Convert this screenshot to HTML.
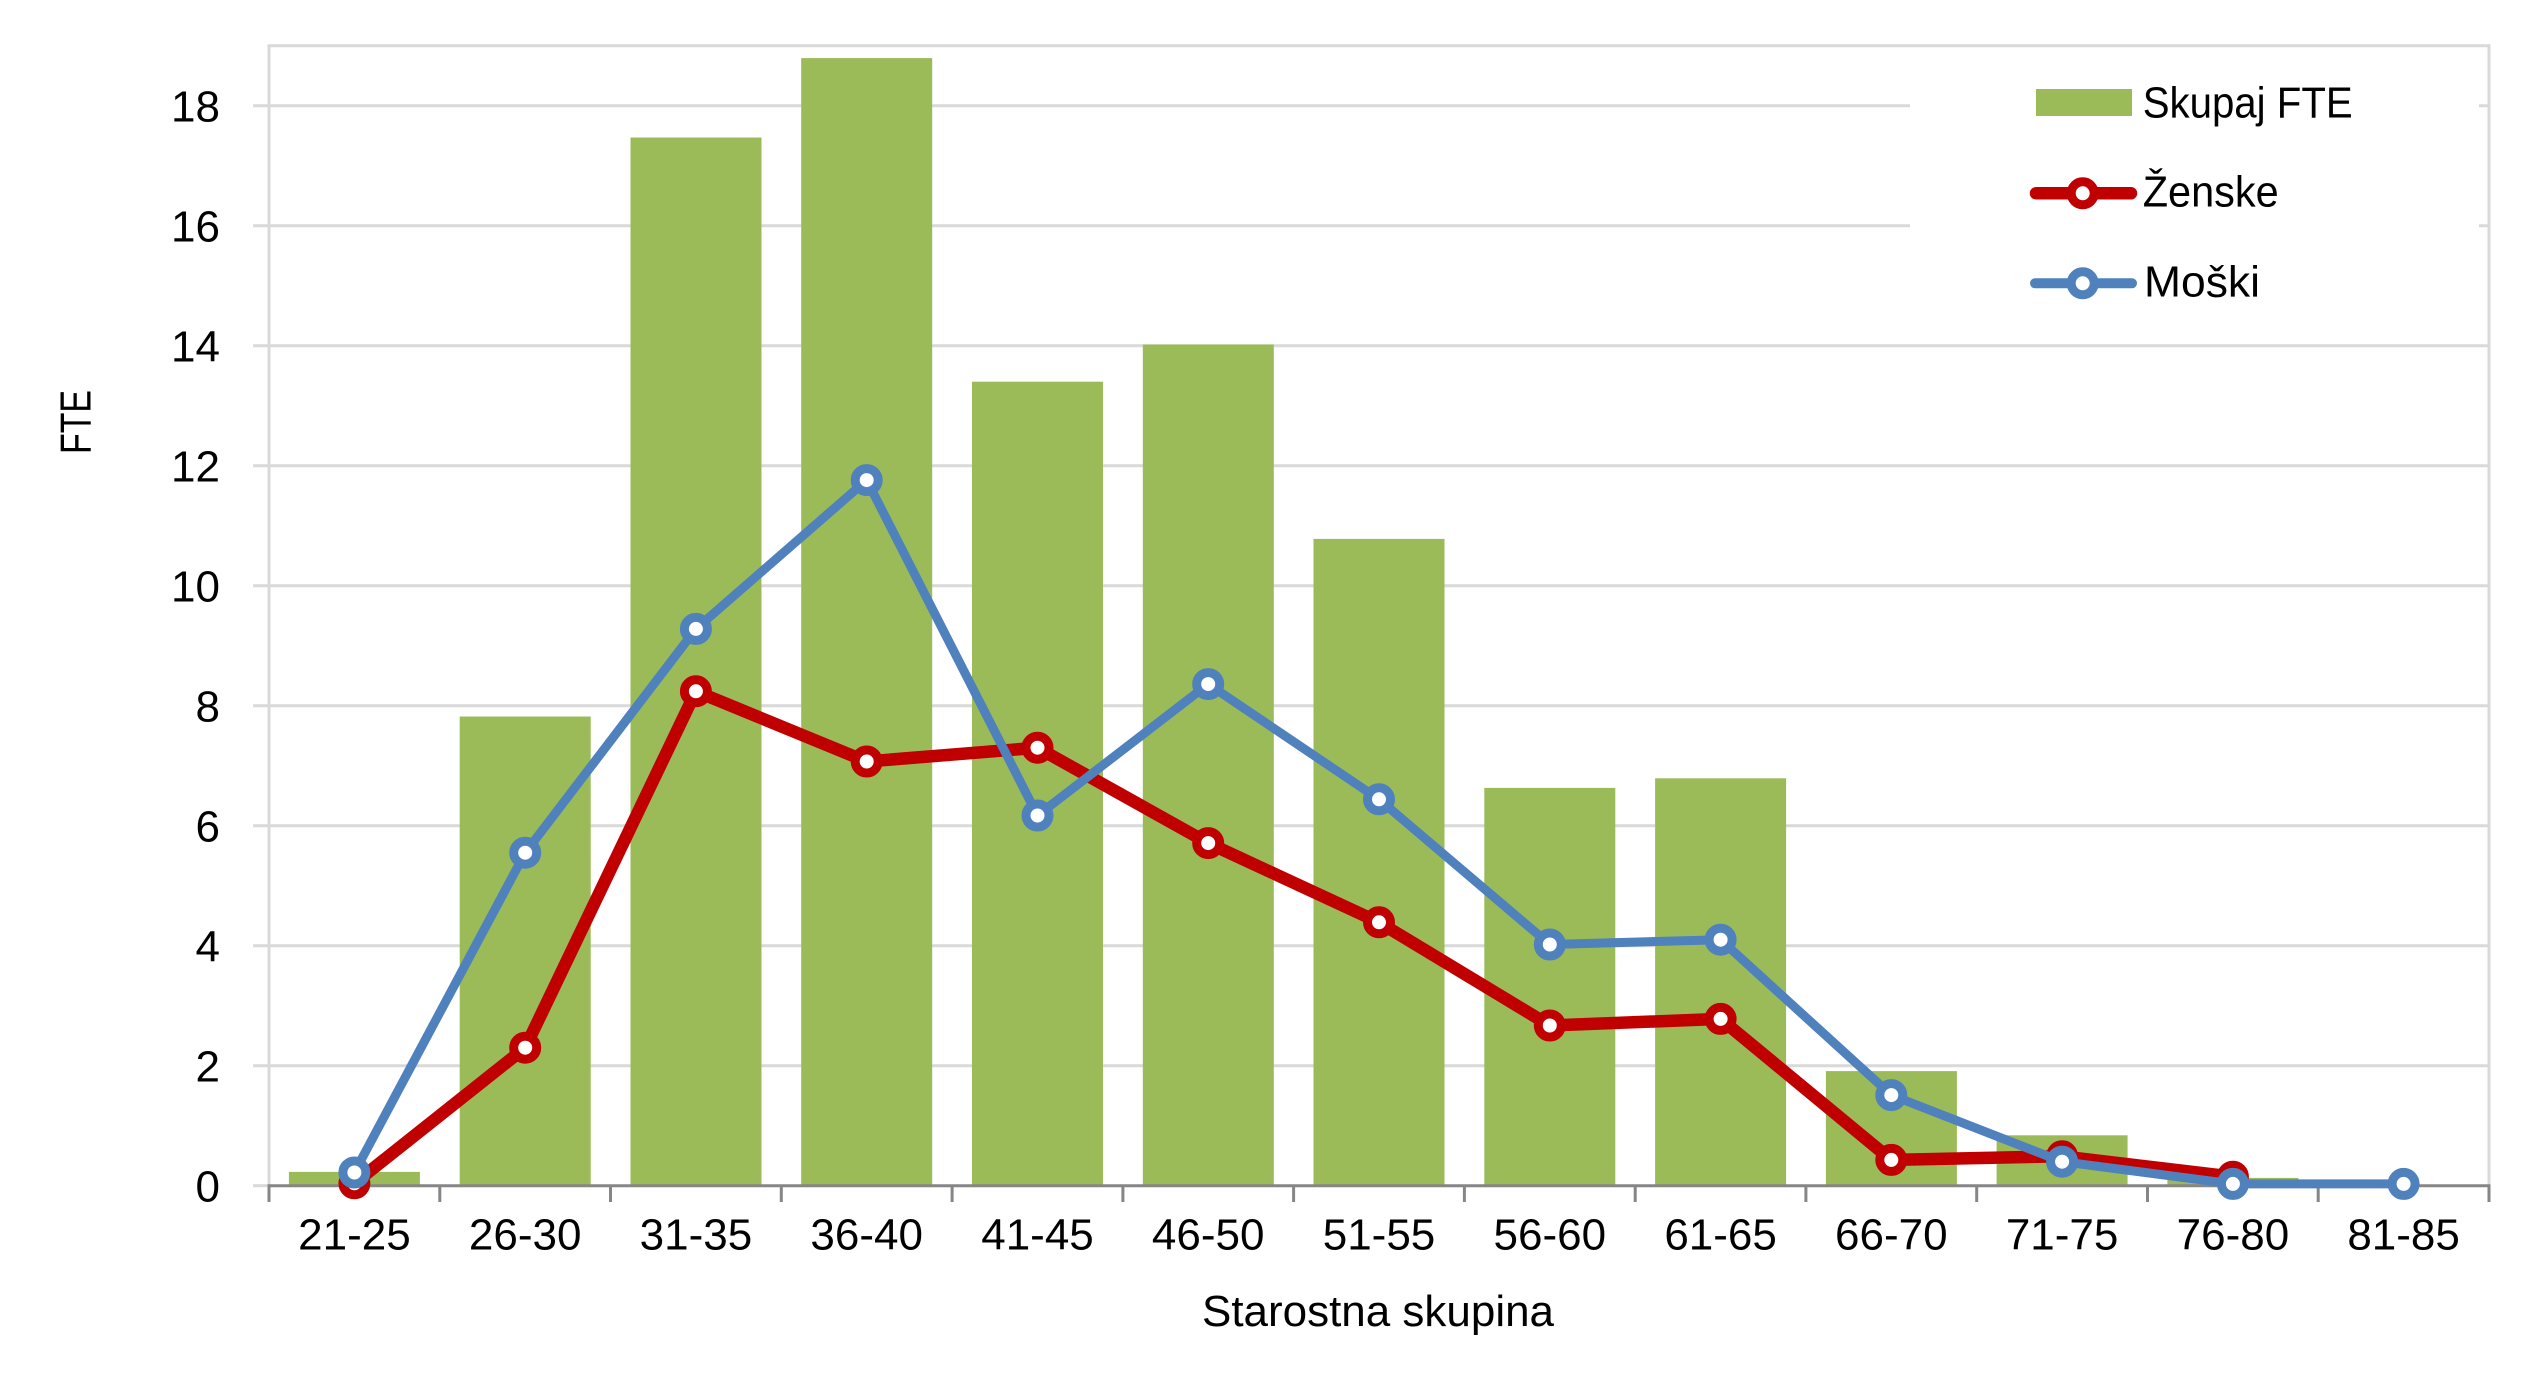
<!DOCTYPE html>
<html>
<head>
<meta charset="utf-8">
<style>
  html,body{margin:0;padding:0;background:#fff;}
  svg{display:block;}
  text{font-family:"Liberation Sans", sans-serif; fill:#000;}
</style>
</head>
<body>
<svg width="2535" height="1396" viewBox="0 0 2535 1396" xmlns="http://www.w3.org/2000/svg">
  <rect x="0" y="0" width="2535" height="1396" fill="#fff"/>

  <!-- gridlines -->
  <g stroke="#d9d9d9" stroke-width="3">
    <line x1="253" y1="1065.7" x2="2489" y2="1065.7"/>
    <line x1="253" y1="945.7" x2="2489" y2="945.7"/>
    <line x1="253" y1="825.7" x2="2489" y2="825.7"/>
    <line x1="253" y1="705.7" x2="2489" y2="705.7"/>
    <line x1="253" y1="585.7" x2="2489" y2="585.7"/>
    <line x1="253" y1="465.7" x2="2489" y2="465.7"/>
    <line x1="253" y1="345.7" x2="2489" y2="345.7"/>
    <line x1="253" y1="225.7" x2="2489" y2="225.7"/>
    <line x1="253" y1="105.7" x2="2489" y2="105.7"/>
    <line x1="253" y1="1185.7" x2="269" y2="1185.7"/>
    <!-- plot border -->
    <line x1="269" y1="45.7" x2="2489" y2="45.7"/>
    <line x1="269" y1="44.2" x2="269" y2="1185.7"/>
    <line x1="2489" y1="44.2" x2="2489" y2="1185.7"/>
  </g>

  <!-- legend background (covers gridlines) -->
  <rect x="1910" y="60" width="569" height="270" fill="#fff"/>

  <!-- bars -->
  <g fill="#9bbb59">
    <rect x="288.9" y="1171.9" width="131" height="13.8"/>
    <rect x="459.7" y="716.5" width="131" height="469.2"/>
    <rect x="630.5" y="137.5" width="131" height="1048.2"/>
    <rect x="801.2" y="58.1" width="131" height="1127.6"/>
    <rect x="972.0" y="381.7" width="131" height="804"/>
    <rect x="1142.8" y="344.5" width="131" height="841.2"/>
    <rect x="1313.5" y="538.9" width="131" height="646.8"/>
    <rect x="1484.3" y="787.9" width="131" height="397.8"/>
    <rect x="1655.1" y="778.3" width="131" height="407.4"/>
    <rect x="1825.9" y="1071.1" width="131" height="114.6"/>
    <rect x="1996.6" y="1135.3" width="131" height="50.4"/>
    <rect x="2167.4" y="1177.9" width="131" height="7.8"/>
  </g>

  <!-- x axis -->
  <g stroke="#868686" stroke-width="3">
    <line x1="267.5" y1="1185.7" x2="2490.5" y2="1185.7"/>
    <line x1="269" y1="1185.7" x2="269" y2="1202"/>
    <line x1="439.8" y1="1185.7" x2="439.8" y2="1202"/>
    <line x1="610.5" y1="1185.7" x2="610.5" y2="1202"/>
    <line x1="781.3" y1="1185.7" x2="781.3" y2="1202"/>
    <line x1="952.1" y1="1185.7" x2="952.1" y2="1202"/>
    <line x1="1122.9" y1="1185.7" x2="1122.9" y2="1202"/>
    <line x1="1293.6" y1="1185.7" x2="1293.6" y2="1202"/>
    <line x1="1464.4" y1="1185.7" x2="1464.4" y2="1202"/>
    <line x1="1635.2" y1="1185.7" x2="1635.2" y2="1202"/>
    <line x1="1805.9" y1="1185.7" x2="1805.9" y2="1202"/>
    <line x1="1976.7" y1="1185.7" x2="1976.7" y2="1202"/>
    <line x1="2147.5" y1="1185.7" x2="2147.5" y2="1202"/>
    <line x1="2318.2" y1="1185.7" x2="2318.2" y2="1202"/>
    <line x1="2489" y1="1185.7" x2="2489" y2="1202"/>
  </g>

  <!-- Zenske (red) -->
  <polyline fill="none" stroke="#c00000" stroke-width="12.5" stroke-linejoin="round" stroke-linecap="round"
    points="354.4,1183.3 525.2,1047.7 695.9,691.3 866.7,761.5 1037.5,747.7 1208.2,843.1 1379.0,922.3 1549.8,1025.5 1720.6,1018.9 1891.3,1159.9 2062.1,1156.3 2232.9,1176.7"/>
  <g fill="#fff" stroke="#c00000" stroke-width="9">
    <circle cx="354.4" cy="1183.3" r="11.5"/>
    <circle cx="525.2" cy="1047.7" r="11.5"/>
    <circle cx="695.9" cy="691.3" r="11.5"/>
    <circle cx="866.7" cy="761.5" r="11.5"/>
    <circle cx="1037.5" cy="747.7" r="11.5"/>
    <circle cx="1208.2" cy="843.1" r="11.5"/>
    <circle cx="1379.0" cy="922.3" r="11.5"/>
    <circle cx="1549.8" cy="1025.5" r="11.5"/>
    <circle cx="1720.6" cy="1018.9" r="11.5"/>
    <circle cx="1891.3" cy="1159.9" r="11.5"/>
    <circle cx="2062.1" cy="1156.3" r="11.5"/>
    <circle cx="2232.9" cy="1176.7" r="11.5"/>
  </g>

  <!-- Moski (blue) -->
  <polyline fill="none" stroke="#4f81bd" stroke-width="9" stroke-linejoin="round" stroke-linecap="round"
    points="354.4,1172.5 525.2,852.7 695.9,628.9 866.7,480.1 1037.5,815.5 1208.2,684.1 1379.0,799.3 1549.8,944.5 1720.6,939.7 1891.3,1095.1 2062.1,1161.7 2232.9,1183.9 2403.6,1183.9"/>
  <g fill="#fff" stroke="#4f81bd" stroke-width="9">
    <circle cx="354.4" cy="1172.5" r="11.5"/>
    <circle cx="525.2" cy="852.7" r="11.5"/>
    <circle cx="695.9" cy="628.9" r="11.5"/>
    <circle cx="866.7" cy="480.1" r="11.5"/>
    <circle cx="1037.5" cy="815.5" r="11.5"/>
    <circle cx="1208.2" cy="684.1" r="11.5"/>
    <circle cx="1379.0" cy="799.3" r="11.5"/>
    <circle cx="1549.8" cy="944.5" r="11.5"/>
    <circle cx="1720.6" cy="939.7" r="11.5"/>
    <circle cx="1891.3" cy="1095.1" r="11.5"/>
    <circle cx="2062.1" cy="1161.7" r="11.5"/>
    <circle cx="2232.9" cy="1183.9" r="11.5"/>
    <circle cx="2403.6" cy="1183.9" r="11.5"/>
  </g>

  <!-- y axis labels -->
  <g font-size="44" text-anchor="end">
    <text x="220" y="1201.7">0</text>
    <text x="220" y="1081.7">2</text>
    <text x="220" y="961.7">4</text>
    <text x="220" y="841.7">6</text>
    <text x="220" y="721.7">8</text>
    <text x="220" y="601.7">10</text>
    <text x="220" y="481.7">12</text>
    <text x="220" y="361.7">14</text>
    <text x="220" y="241.7">16</text>
    <text x="220" y="121.7">18</text>
  </g>

  <!-- x axis labels -->
  <g font-size="44" text-anchor="middle">
    <text x="354.4" y="1249.3">21-25</text>
    <text x="525.2" y="1249.3">26-30</text>
    <text x="695.9" y="1249.3">31-35</text>
    <text x="866.7" y="1249.3">36-40</text>
    <text x="1037.5" y="1249.3">41-45</text>
    <text x="1208.2" y="1249.3">46-50</text>
    <text x="1379.0" y="1249.3">51-55</text>
    <text x="1549.8" y="1249.3">56-60</text>
    <text x="1720.6" y="1249.3">61-65</text>
    <text x="1891.3" y="1249.3">66-70</text>
    <text x="2062.1" y="1249.3">71-75</text>
    <text x="2232.9" y="1249.3">76-80</text>
    <text x="2403.6" y="1249.3">81-85</text>
  </g>

  <!-- axis titles -->
  <text x="1378" y="1326" font-size="44" text-anchor="middle" textLength="352" lengthAdjust="spacingAndGlyphs">Starostna skupina</text>
  <text transform="translate(90.7,422) rotate(-90)" x="0" y="0" font-size="44" text-anchor="middle" textLength="64" lengthAdjust="spacingAndGlyphs">FTE</text>

  <!-- legend -->
  <rect x="2036" y="89" width="96" height="27" fill="#9bbb59"/>
  <text x="2142.7" y="117.3" font-size="44" textLength="210" lengthAdjust="spacingAndGlyphs">Skupaj FTE</text>

  <line x1="2036" y1="193.3" x2="2131" y2="193.3" stroke="#c00000" stroke-width="12.5" stroke-linecap="round"/>
  <circle cx="2082.7" cy="193.3" r="11.5" fill="#fff" stroke="#c00000" stroke-width="9"/>
  <text x="2142.7" y="206.7" font-size="44" textLength="136" lengthAdjust="spacingAndGlyphs">Ženske</text>

  <line x1="2035" y1="283.3" x2="2132" y2="283.3" stroke="#4f81bd" stroke-width="10" stroke-linecap="round"/>
  <circle cx="2082.7" cy="283.3" r="11.5" fill="#fff" stroke="#4f81bd" stroke-width="9"/>
  <text x="2144" y="296.7" font-size="44" textLength="116" lengthAdjust="spacingAndGlyphs">Moški</text>
</svg>
</body>
</html>
